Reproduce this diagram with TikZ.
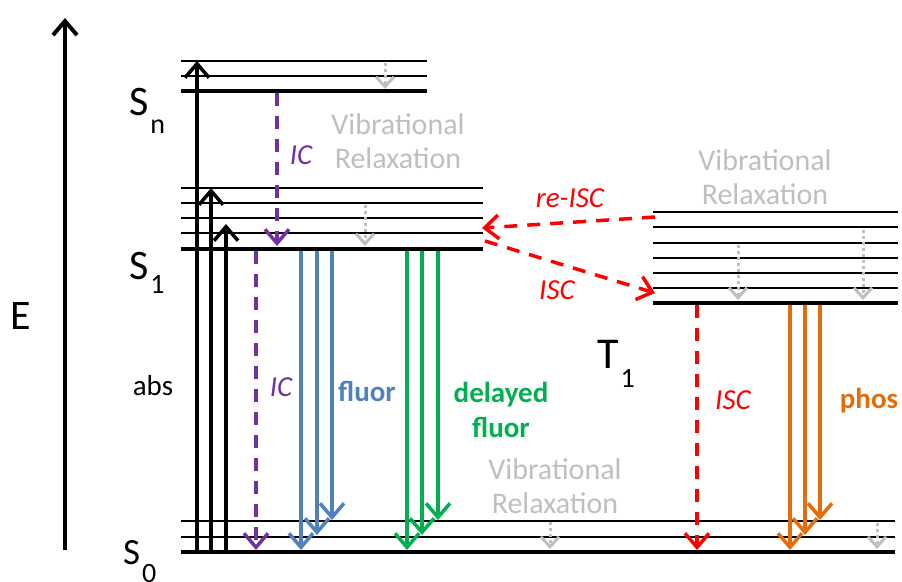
\documentclass[tikz,border=0pt]{standalone}
\usepackage{fontspec}
\setmainfont{Carlito}
\usetikzlibrary{arrows.meta}
\definecolor{icpurple}{HTML}{7030A0}
\definecolor{fluorblue}{HTML}{4F81BD}
\definecolor{delgreen}{HTML}{00B050}
\definecolor{iscred}{HTML}{FF0000}
\definecolor{phosorange}{HTML}{E46C0A}
\definecolor{vibgrey}{HTML}{BFBFBF}
\tikzset{
  level/.style={line width=2pt},
  bottomlevel/.style={line width=4pt},
  absorb/.style={draw, line width=3.5pt, -{Straight Barb[length=14pt,width=24pt]}},
  emit/.style={draw, line width=3.5pt, -{Straight Barb[length=14pt,width=24pt]}},
  nonrad/.style={emit, dash pattern=on 13pt off 10pt},
  relax/.style={draw=vibgrey, line width=3pt, dash pattern=on 3pt off 3pt,
    -{Straight Barb[length=10pt,width=18pt]}},
  state/.style={inner sep=0pt, anchor=base west, font=\fontsize{42}{42}\selectfont},
  lbl/.style={inner sep=0pt, font=\fontsize{29}{33}\selectfont},
  vib/.style={inner sep=0pt, align=center, text=vibgrey, font=\fontsize{30}{34}\selectfont},
}
\newcommand{\lowsub}[2]{\kern2pt\raisebox{-#1}{\fontsize{28}{28}\selectfont #2}}

\begin{document}
\begin{tikzpicture}[x=1pt, y=-1pt]
  \useasboundingbox (0,0) rectangle (902,581);

  % Energy axis
  \coordinate (ebot) at (65,550);
  \coordinate (etop) at (65,18);
  \draw[line width=4pt, -{Straight Barb[length=14pt,width=24pt]}] (ebot) -- (etop);
  \node[state] (elabel) at (10,329) {E};

  % Levels
  \foreach \y in {61,76} \draw[level] (181,\y) -- (427,\y);
  \draw[bottomlevel] (181,91) -- (427,91);
  \foreach \y in {188,203,218,233} \draw[level] (181,\y) -- (483,\y);
  \draw[bottomlevel] (181,249) -- (483,249);
  \foreach \y in {212,227,243,258,273,288} \draw[level] (653,\y) -- (898,\y);
  \draw[bottomlevel] (653,303) -- (898,303);
  \foreach \y in {521,537} \draw[level] (181,\y) -- (895,\y);
  \draw[bottomlevel] (181,552) -- (895,552);

  % State labels
  \node[state] (sn) at (129,115) {S\lowsub{18pt}{n}};
  \node[state] (s1) at (129,279) {S\lowsub{14pt}{1}};
  \node[state, font=\fontsize{37}{37}\selectfont] (s0) at (123,564) {S\lowsub{18pt}{0}};
  \node[state, font=\fontsize{44}{44}\selectfont] (t1) at (597,368) {T\lowsub{19pt}{1}};

  % Absorption
  \coordinate (a1) at (197,554); \coordinate (a1e) at (197,61);
  \coordinate (a2) at (211,554); \coordinate (a2e) at (211,188);
  \coordinate (a3) at (226,554); \coordinate (a3e) at (226,224);
  \draw[absorb] (a1) -- (a1e);
  \draw[absorb] (a2) -- (a2e);
  \draw[absorb] (a3) -- (a3e);
  \node[lbl] (abs) at (153,386) {abs};

  % Vibrational relaxation
  \draw[relax] (385,63) -- (385,89);
  \draw[relax] (365,205) -- (365,246);
  \draw[relax] (738,245) -- (738,300);
  \draw[relax] (863,230) -- (863,300);
  \draw[relax] (550,522) -- (550,549);
  \draw[relax] (877,523) -- (877,549);
  \node[vib] (vibn) at (398,141) {Vibrational\\Relaxation};
  \node[vib] (vibt) at (765,177) {Vibrational\\Relaxation};
  \node[vib] (vib0) at (555,486) {Vibrational\\Relaxation};

  % Internal conversion
  \draw[nonrad, icpurple] (277,93) -- (277,246);
  \draw[nonrad, icpurple] (256,251) -- (256,550);
  \node[lbl, text=icpurple, font=\fontsize{29}{33}\selectfont\itshape] (icn) at (301,155) {IC};
  \node[lbl, text=icpurple, font=\fontsize{29}{33}\selectfont\itshape] (ic1) at (281,387) {IC};

  % Fluorescence
  \foreach \x/\y in {301/550, 317/535, 332/520}
    \draw[emit, fluorblue] (\x,251) -- (\x,\y);
  \node[lbl, text=fluorblue, font=\fontsize{29}{33}\selectfont\bfseries] (fluor) at (367,391) {fluor};

  % Delayed fluorescence
  \foreach \x/\y in {407/550, 422/535, 438/520}
    \draw[emit, delgreen] (\x,251) -- (\x,\y);
  \node[lbl, align=center, text=delgreen, font=\fontsize{29}{35}\selectfont\bfseries] (dfluor) at (501,410) {delayed\\fluor};

  % Intersystem crossing
  \draw[nonrad, iscred] (655,217) -- (482,228);
  \draw[nonrad, iscred] (485,241) -- (655,293);
  \draw[nonrad, iscred] (697,305) -- (697,550);
  \node[lbl, text=iscred, font=\fontsize{29}{33}\selectfont\itshape] (reisc) at (570,198) {re-ISC};
  \node[lbl, text=iscred, font=\fontsize{29}{33}\selectfont\itshape] (isc) at (557,290) {ISC};
  \node[lbl, text=iscred, font=\fontsize{29}{33}\selectfont\itshape] (isct) at (733,400) {ISC};

  % Phosphorescence
  \foreach \x/\y in {790/550, 805/535, 820/520}
    \draw[emit, phosorange] (\x,305) -- (\x,\y);
  \node[lbl, text=phosorange, font=\fontsize{29}{33}\selectfont\bfseries] (phos) at (869,401) {phos};
\end{tikzpicture}
\end{document}
